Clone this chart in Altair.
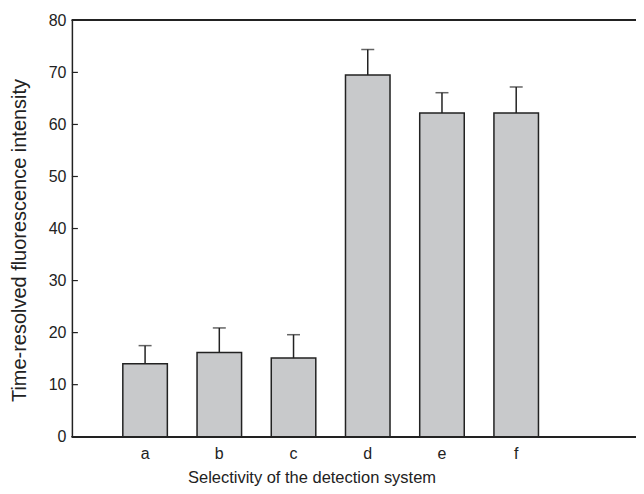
import altair as alt
import pandas as pd

categories = ["a", "b", "c", "d", "e", "f"]
means = [14.0, 16.2, 15.1, 69.5, 62.2, 62.2]
errors = [3.5, 4.7, 4.5, 4.9, 3.9, 5.0]
y_ticks = [0, 10, 20, 30, 40, 50, 60, 70, 80]

df = pd.DataFrame({"cat": categories, "mean": means, "err": errors})
df["top"] = df["mean"] + df["err"]
ticks_df = pd.DataFrame({"v": y_ticks})

W, H = 565, 417
FRAME_W = 572
FONT = "Liberation Sans"
DARK = "#222222"

xscale = alt.Scale(domain=categories, paddingInner=0.4, paddingOuter=1, align=0.343)
yscale = alt.Scale(domain=[0, 80], nice=False)

x_enc = alt.X("cat:N", scale=xscale, axis=alt.Axis(
    title="Selectivity of the detection system", labelAngle=0, ticks=False,
    labelPadding=9, labelFontSize=16, titleFontSize=16.5, titleFontWeight="normal",
    titleX=240, titleY=46, titleBaseline="alphabetic", titleAlign="center",
    domainColor=DARK, domainWidth=1.5, labelColor=DARK, titleColor=DARK,
    labelFont=FONT, titleFont=FONT))

y_enc = alt.Y("mean:Q", scale=yscale, axis=alt.Axis(
    title="Time-resolved fluorescence intensity", values=y_ticks, ticks=False,
    labelPadding=6, labelFontSize=16, titleFontSize=20, titleFontWeight="normal",
    titleX=-42, titleY=220, domainColor=DARK, domainWidth=1.5, labelColor=DARK,
    titleColor=DARK, labelFont=FONT, titleFont=FONT, grid=False))

bars = alt.Chart(df).mark_bar(color="#c8c9cb", stroke=DARK, strokeWidth=1.5).encode(
    x=x_enc, y=y_enc)

err_rule = alt.Chart(df).mark_rule(color=DARK, strokeWidth=1.5).encode(
    x=alt.X("cat:N", scale=xscale), y=alt.Y("mean:Q", scale=yscale), y2="top:Q")

caps = alt.Chart(df).mark_tick(color=DARK, size=13, thickness=1.5).encode(
    x=alt.X("cat:N", scale=xscale), y=alt.Y("top:Q", scale=yscale))

inticks = alt.Chart(ticks_df).mark_rule(color=DARK, strokeWidth=1.2).encode(
    y=alt.Y("v:Q", scale=yscale), x=alt.value(0), x2=alt.value(6))

top_line = alt.Chart(ticks_df).mark_rule(color=DARK, strokeWidth=1.5).encode(
    y=alt.value(0), x=alt.value(0), x2=alt.value(FRAME_W))

bottom_line = alt.Chart(ticks_df).mark_rule(color=DARK, strokeWidth=1.5).encode(
    y=alt.value(H), x=alt.value(0), x2=alt.value(FRAME_W))

chart = alt.layer(bars, err_rule, caps, inticks, top_line, bottom_line).properties(
    width=W, height=H,
    autosize=alt.AutoSizeParams(type="none"),
    padding={"left": 64, "top": 12, "right": 0, "bottom": 56},
).configure_view(stroke=None)

chart.save("out.html", embed_options={"renderer": "svg", "actions": False})
